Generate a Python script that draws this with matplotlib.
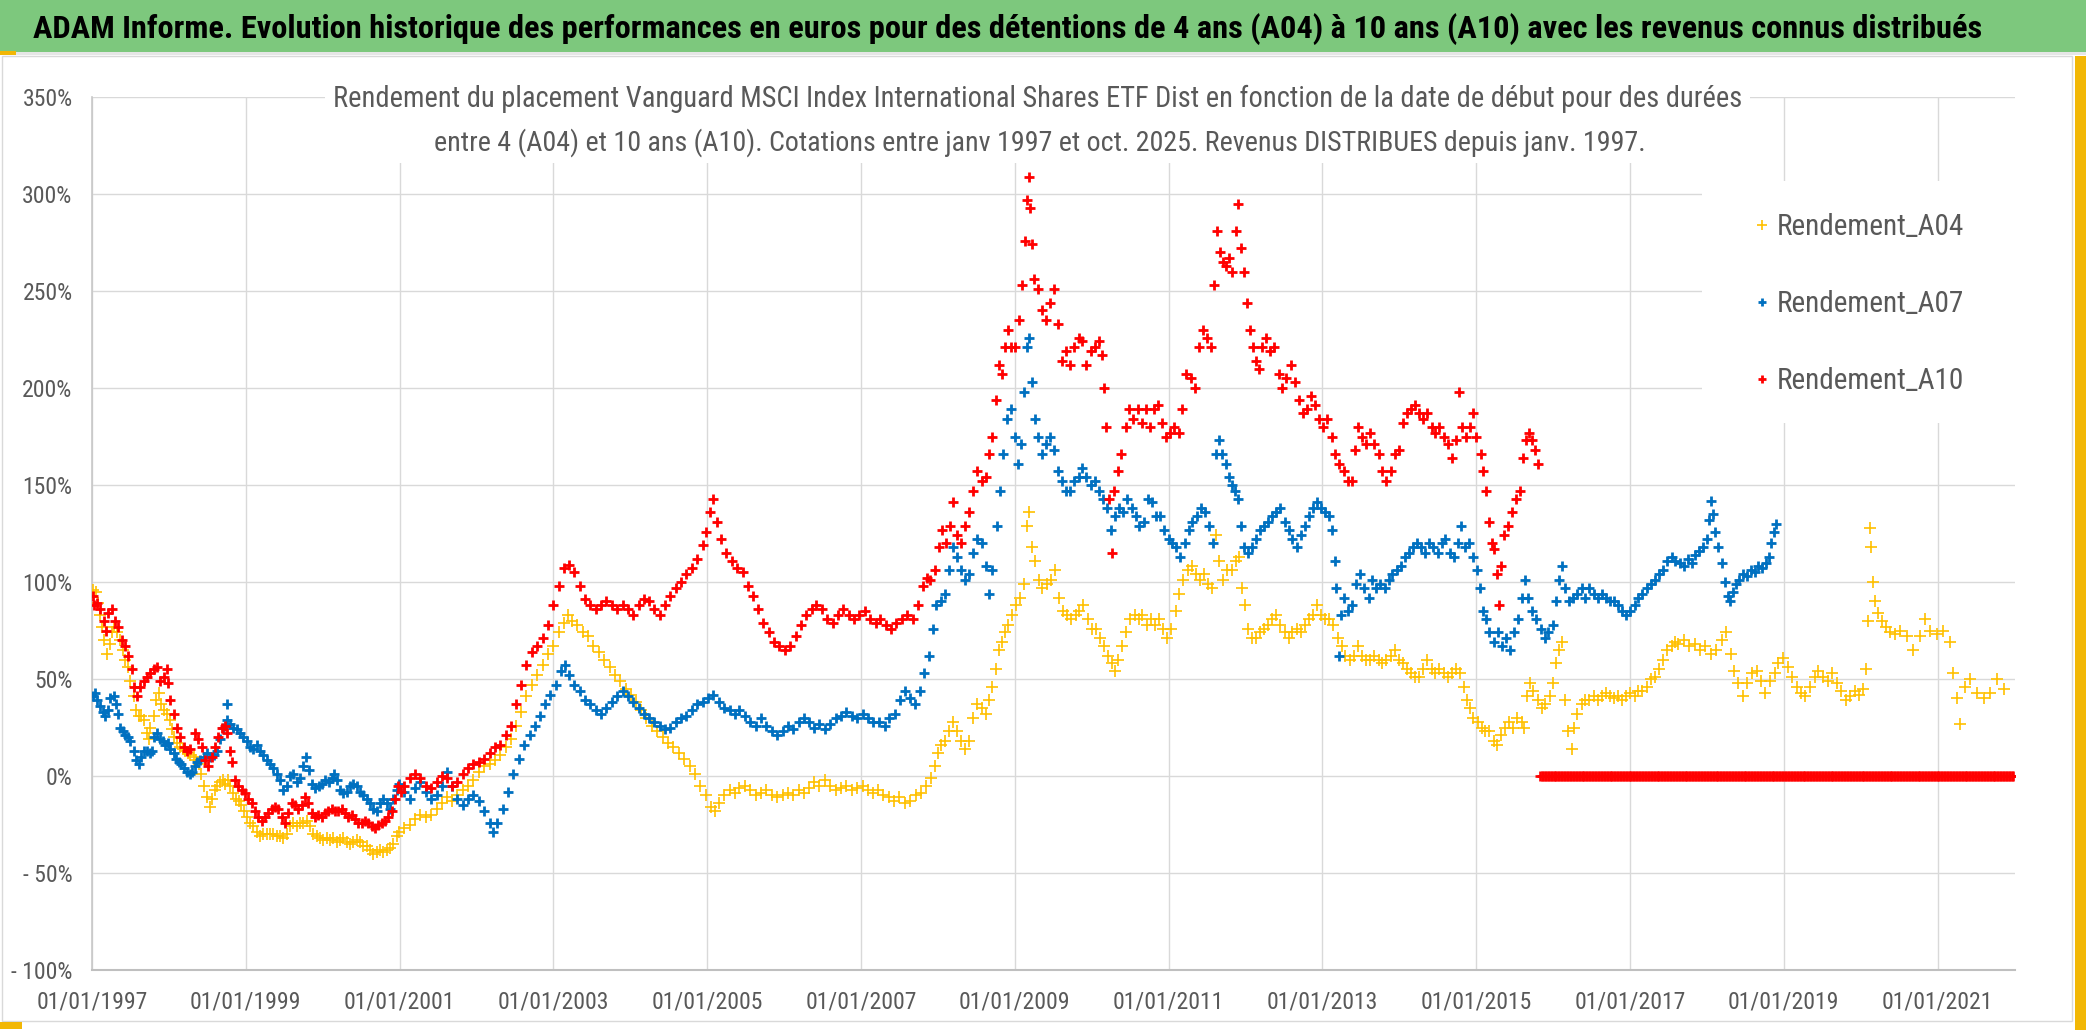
import matplotlib
matplotlib.use('Agg')
import matplotlib.pyplot as plt
from matplotlib import font_manager
from matplotlib.font_manager import FontProperties
from matplotlib.patches import Rectangle
import pandas as pd

# ---------------- data: (start date as decimal year, return in %) ----------------
a04 = [
    (1997.01, 96), (1997.05, 95), (1997.08, 89), (1997.10, 83), (1997.13, 77), (1997.16, 70), (1997.19, 63),
    (1997.23, 68), (1997.26, 74), (1997.29, 77), (1997.33, 74), (1997.36, 70), (1997.40, 65), (1997.43, 60),
    (1997.47, 56), (1997.50, 49), (1997.54, 41), (1997.57, 34), (1997.61, 31), (1997.64, 31), (1997.68, 29),
    (1997.71, 22), (1997.74, 19), (1997.76, 25), (1997.80, 31), (1997.83, 39), (1997.87, 43), (1997.90, 37),
    (1997.94, 34), (1997.97, 32), (1998.01, 29), (1998.04, 24), (1998.07, 20), (1998.11, 17), (1998.14, 15),
    (1998.18, 14), (1998.21, 13), (1998.25, 12), (1998.28, 11), (1998.32, 10), (1998.35, 8), (1998.39, 6),
    (1998.42, 1), (1998.46, -5), (1998.49, -11), (1998.53, -16), (1998.56, -12), (1998.60, -7), (1998.63, -5),
    (1998.66, -3), (1998.70, -2), (1998.73, -4), (1998.77, -2), (1998.80, -5), (1998.84, -9), (1998.87, -12),
    (1998.91, -13), (1998.94, -15), (1998.98, -18), (1999.01, -21), (1999.05, -24), (1999.10, -26), (1999.14, -29),
    (1999.18, -31), (1999.23, -30), (1999.27, -30), (1999.31, -30), (1999.36, -30), (1999.40, -31), (1999.44, -31),
    (1999.49, -32), (1999.53, -30), (1999.57, -26), (1999.62, -24), (1999.66, -26), (1999.70, -24), (1999.75, -24),
    (1999.79, -23), (1999.83, -26), (1999.88, -30), (1999.92, -31), (1999.96, -32), (2000.01, -33), (2000.05, -32),
    (2000.09, -33), (2000.14, -32), (2000.18, -34), (2000.22, -33), (2000.27, -32), (2000.31, -34), (2000.36, -35),
    (2000.40, -34), (2000.44, -33), (2000.49, -34), (2000.53, -36), (2000.57, -36), (2000.62, -38), (2000.66, -40),
    (2000.70, -39), (2000.75, -38), (2000.79, -39), (2000.83, -38), (2000.88, -37), (2000.92, -35), (2000.96, -31),
    (2000.99, -29), (2001.06, -27), (2001.13, -25), (2001.20, -22), (2001.27, -20), (2001.34, -21), (2001.41, -20),
    (2001.48, -17), (2001.55, -14), (2001.62, -11), (2001.68, -13), (2001.75, -10), (2001.82, -7), (2001.89, -5),
    (2001.96, -2), (2002.03, 2), (2002.10, 5), (2002.17, 6), (2002.24, 8), (2002.31, 11), (2002.38, 15),
    (2002.45, 19), (2002.51, 26), (2002.58, 33), (2002.65, 41), (2002.72, 47), (2002.79, 52), (2002.86, 57),
    (2002.93, 63), (2003.00, 67), (2003.07, 74), (2003.14, 79), (2003.19, 83), (2003.24, 80), (2003.31, 78),
    (2003.38, 74), (2003.45, 72), (2003.52, 67), (2003.59, 64), (2003.66, 60), (2003.73, 56), (2003.80, 52),
    (2003.87, 49), (2003.94, 45), (2004.01, 42), (2004.08, 38), (2004.14, 34), (2004.21, 30), (2004.28, 26),
    (2004.35, 23), (2004.42, 20), (2004.49, 17), (2004.56, 15), (2004.63, 12), (2004.70, 9), (2004.77, 5),
    (2004.84, 1), (2004.91, -5), (2004.98, -10), (2005.05, -16), (2005.10, -18), (2005.15, -14), (2005.22, -10),
    (2005.29, -7), (2005.36, -9), (2005.42, -6), (2005.49, -5), (2005.56, -7), (2005.63, -10), (2005.70, -9),
    (2005.77, -7), (2005.84, -10), (2005.91, -11), (2005.98, -10), (2006.05, -9), (2006.12, -10), (2006.19, -7),
    (2006.26, -9), (2006.32, -6), (2006.39, -3), (2006.46, -5), (2006.53, -2), (2006.60, -5), (2006.67, -7),
    (2006.74, -6), (2006.81, -5), (2006.88, -7), (2006.95, -6), (2007.02, -5), (2007.09, -7), (2007.16, -9),
    (2007.22, -7), (2007.29, -10), (2007.36, -11), (2007.43, -13), (2007.50, -11), (2007.57, -14), (2007.64, -13),
    (2007.71, -10), (2007.78, -9), (2007.84, -5), (2007.91, -1), (2007.96, 5), (2008.00, 12), (2008.04, 16),
    (2008.09, 18), (2008.14, 23), (2008.20, 28), (2008.25, 23), (2008.30, 18), (2008.35, 14), (2008.41, 18),
    (2008.46, 30), (2008.51, 37), (2008.57, 35), (2008.62, 32), (2008.67, 39), (2008.71, 46), (2008.75, 55),
    (2008.79, 65), (2008.83, 69), (2008.87, 74), (2008.91, 78), (2008.96, 83), (2009.02, 88), (2009.07, 92),
    (2009.12, 99), (2009.16, 129), (2009.19, 136), (2009.22, 118), (2009.26, 111), (2009.31, 101), (2009.36, 97),
    (2009.42, 99), (2009.47, 101), (2009.52, 106), (2009.57, 92), (2009.63, 85), (2009.68, 83), (2009.73, 81),
    (2009.79, 83), (2009.84, 85), (2009.89, 88), (2009.95, 81), (2010.00, 76), (2010.05, 76), (2010.11, 71),
    (2010.16, 67), (2010.21, 62), (2010.26, 58), (2010.30, 54), (2010.34, 60), (2010.40, 67), (2010.45, 74),
    (2010.50, 81), (2010.56, 83), (2010.61, 81), (2010.66, 83), (2010.72, 78), (2010.77, 81), (2010.82, 78),
    (2010.88, 81), (2010.93, 76), (2010.98, 71), (2011.03, 76), (2011.09, 85), (2011.14, 94), (2011.19, 101),
    (2011.25, 106), (2011.30, 108), (2011.35, 104), (2011.41, 101), (2011.46, 104), (2011.51, 99), (2011.57, 97),
    (2011.62, 124), (2011.66, 111), (2011.71, 101), (2011.76, 106), (2011.82, 106), (2011.87, 111), (2011.91, 113),
    (2011.95, 97), (2011.99, 88), (2012.03, 76), (2012.08, 71), (2012.14, 71), (2012.19, 74), (2012.24, 76),
    (2012.29, 78), (2012.35, 81), (2012.40, 83), (2012.45, 78), (2012.51, 74), (2012.56, 71), (2012.61, 74),
    (2012.67, 76), (2012.72, 74), (2012.77, 78), (2012.83, 81), (2012.88, 83), (2012.93, 88), (2012.98, 83),
    (2013.04, 81), (2013.09, 81), (2013.14, 78), (2013.20, 71), (2013.25, 67), (2013.30, 62), (2013.36, 60),
    (2013.41, 62), (2013.46, 67), (2013.52, 62), (2013.57, 60), (2013.62, 60), (2013.67, 62), (2013.73, 60),
    (2013.78, 58), (2013.83, 60), (2013.89, 62), (2013.94, 65), (2013.99, 60), (2014.05, 58), (2014.10, 55),
    (2014.15, 53), (2014.21, 51), (2014.26, 51), (2014.31, 55), (2014.36, 60), (2014.42, 55), (2014.47, 53),
    (2014.52, 55), (2014.58, 53), (2014.63, 51), (2014.68, 53), (2014.74, 55), (2014.79, 53), (2014.84, 46),
    (2014.88, 39), (2014.92, 35), (2014.96, 30), (2015.02, 28), (2015.07, 25), (2015.12, 23), (2015.17, 23),
    (2015.23, 18), (2015.27, 16), (2015.32, 21), (2015.37, 25), (2015.43, 28), (2015.48, 25), (2015.53, 30),
    (2015.59, 28), (2015.62, 25), (2015.66, 41), (2015.70, 48), (2015.74, 44), (2015.80, 39), (2015.85, 35),
    (2015.90, 37), (2015.96, 41), (2016.00, 48), (2016.04, 58), (2016.08, 65), (2016.12, 69), (2016.16, 39),
    (2016.20, 23), (2016.24, 14), (2016.27, 25), (2016.31, 32), (2016.37, 37), (2016.42, 39), (2016.47, 39),
    (2016.53, 41), (2016.58, 39), (2016.63, 41), (2016.69, 43), (2016.74, 41), (2016.79, 40), (2016.85, 41),
    (2016.90, 39), (2016.95, 41), (2017.00, 43), (2017.06, 41), (2017.11, 44), (2017.16, 44), (2017.22, 46),
    (2017.27, 50), (2017.32, 51), (2017.38, 55), (2017.43, 60), (2017.48, 65), (2017.54, 67), (2017.59, 69),
    (2017.63, 68), (2017.70, 70), (2017.77, 67), (2017.84, 68), (2017.91, 65), (2017.98, 67), (2018.05, 63),
    (2018.12, 65), (2018.19, 70), (2018.25, 74), (2018.31, 63), (2018.35, 54), (2018.41, 48), (2018.47, 41),
    (2018.52, 48), (2018.58, 53), (2018.65, 54), (2018.70, 49), (2018.76, 43), (2018.82, 49), (2018.88, 53),
    (2018.93, 58), (2018.99, 61), (2019.05, 56), (2019.11, 51), (2019.17, 46), (2019.22, 43), (2019.28, 41),
    (2019.34, 46), (2019.40, 51), (2019.45, 54), (2019.51, 51), (2019.57, 49), (2019.63, 53), (2019.69, 48),
    (2019.74, 44), (2019.81, 39), (2019.86, 41), (2019.93, 44), (2019.98, 42), (2020.03, 45), (2020.07, 55),
    (2020.10, 80), (2020.12, 128), (2020.14, 118), (2020.16, 100), (2020.19, 90), (2020.23, 84), (2020.28, 80),
    (2020.33, 77), (2020.38, 74), (2020.44, 73), (2020.51, 75), (2020.60, 72), (2020.68, 65), (2020.77, 72),
    (2020.84, 81), (2020.90, 75), (2020.99, 73), (2021.07, 75), (2021.16, 69), (2021.20, 53), (2021.25, 40),
    (2021.29, 27), (2021.36, 46), (2021.42, 50), (2021.51, 43), (2021.60, 40), (2021.68, 43), (2021.77, 50),
    (2021.86, 45)]

a07 = [
    (1997.01, 41), (1997.04, 43), (1997.07, 39), (1997.10, 36), (1997.14, 33), (1997.17, 31), (1997.21, 34),
    (1997.24, 40), (1997.28, 41), (1997.31, 37), (1997.34, 32), (1997.36, 25), (1997.40, 23), (1997.43, 21),
    (1997.47, 20), (1997.50, 18), (1997.54, 13), (1997.57, 8), (1997.61, 6), (1997.64, 10), (1997.68, 13),
    (1997.71, 13), (1997.75, 12), (1997.78, 13), (1997.81, 20), (1997.85, 22), (1997.88, 19), (1997.92, 18),
    (1997.95, 16), (1997.99, 17), (1998.02, 14), (1998.06, 12), (1998.09, 9), (1998.13, 7), (1998.16, 6),
    (1998.20, 4), (1998.23, 2), (1998.27, 1), (1998.30, 2), (1998.34, 5), (1998.37, 7), (1998.40, 8),
    (1998.45, 10), (1998.49, 12), (1998.53, 10), (1998.58, 11), (1998.62, 13), (1998.66, 19), (1998.71, 25),
    (1998.75, 29), (1998.76, 37), (1998.79, 27), (1998.84, 25), (1998.88, 24), (1998.92, 22), (1998.97, 20),
    (1999.01, 18), (1999.05, 15), (1999.10, 14), (1999.14, 16), (1999.18, 13), (1999.23, 11), (1999.27, 8),
    (1999.31, 6), (1999.36, 4), (1999.40, 1), (1999.44, -2), (1999.49, -7), (1999.53, -5), (1999.57, 0),
    (1999.62, 1), (1999.66, -3), (1999.70, -1), (1999.75, 5), (1999.78, 10), (1999.82, 3), (1999.86, -4),
    (1999.90, -6), (1999.95, -5), (1999.99, -4), (2000.03, -2), (2000.08, -3), (2000.12, -1), (2000.15, 1),
    (2000.18, -2), (2000.22, -7), (2000.27, -9), (2000.31, -8), (2000.36, -5), (2000.40, -4), (2000.44, -5),
    (2000.49, -8), (2000.53, -10), (2000.57, -12), (2000.62, -14), (2000.66, -17), (2000.70, -18), (2000.75, -14),
    (2000.79, -12), (2000.83, -14), (2000.88, -17), (2000.92, -12), (2000.96, -7), (2000.99, -4), (2001.06, -8),
    (2001.13, -12), (2001.20, -6), (2001.27, -3), (2001.34, -8), (2001.41, -12), (2001.48, -10), (2001.55, -5),
    (2001.62, 2), (2001.68, -5), (2001.75, -12), (2001.82, -15), (2001.89, -12), (2001.96, -10), (2002.03, -13),
    (2002.10, -18), (2002.17, -24), (2002.22, -29), (2002.27, -24), (2002.34, -17), (2002.41, -8), (2002.48, 1),
    (2002.55, 9), (2002.62, 16), (2002.69, 21), (2002.76, 26), (2002.82, 31), (2002.89, 37), (2002.96, 42),
    (2003.03, 47), (2003.10, 54), (2003.15, 57), (2003.20, 52), (2003.27, 47), (2003.34, 44), (2003.41, 39),
    (2003.48, 37), (2003.55, 34), (2003.62, 32), (2003.69, 35), (2003.76, 38), (2003.83, 41), (2003.90, 44),
    (2003.97, 41), (2004.04, 38), (2004.11, 35), (2004.18, 32), (2004.24, 30), (2004.31, 28), (2004.38, 26),
    (2004.45, 24), (2004.52, 25), (2004.59, 28), (2004.66, 30), (2004.73, 31), (2004.80, 34), (2004.87, 37),
    (2004.94, 38), (2005.01, 40), (2005.08, 42), (2005.15, 38), (2005.22, 35), (2005.29, 34), (2005.36, 32),
    (2005.42, 34), (2005.49, 31), (2005.56, 28), (2005.63, 26), (2005.70, 30), (2005.77, 26), (2005.84, 23),
    (2005.91, 21), (2005.98, 23), (2006.05, 26), (2006.12, 24), (2006.19, 28), (2006.26, 30), (2006.32, 28),
    (2006.39, 25), (2006.46, 27), (2006.53, 24), (2006.60, 27), (2006.67, 30), (2006.74, 31), (2006.81, 33),
    (2006.88, 31), (2006.95, 30), (2007.02, 32), (2007.09, 30), (2007.16, 28), (2007.24, 28), (2007.31, 26),
    (2007.37, 30), (2007.44, 32), (2007.51, 39), (2007.57, 44), (2007.64, 40), (2007.70, 37), (2007.77, 44),
    (2007.82, 53), (2007.88, 62), (2007.93, 76), (2007.98, 88), (2008.04, 90), (2008.09, 94), (2008.14, 106),
    (2008.20, 118), (2008.25, 113), (2008.30, 106), (2008.35, 101), (2008.41, 104), (2008.46, 115), (2008.51, 122),
    (2008.57, 120), (2008.62, 108), (2008.66, 94), (2008.71, 106), (2008.77, 129), (2008.81, 147), (2008.85, 166),
    (2008.90, 184), (2008.95, 189), (2009.00, 175), (2009.04, 161), (2009.08, 171), (2009.12, 198), (2009.16, 221),
    (2009.19, 226), (2009.22, 203), (2009.26, 184), (2009.30, 175), (2009.35, 166), (2009.40, 171), (2009.46, 175),
    (2009.51, 168), (2009.56, 157), (2009.61, 152), (2009.67, 147), (2009.72, 147), (2009.77, 152), (2009.83, 154),
    (2009.88, 159), (2009.93, 154), (2009.99, 150), (2010.04, 152), (2010.09, 147), (2010.15, 143), (2010.20, 138),
    (2010.25, 127), (2010.30, 134), (2010.36, 138), (2010.41, 136), (2010.46, 143), (2010.52, 138), (2010.57, 134),
    (2010.62, 129), (2010.68, 131), (2010.73, 143), (2010.78, 141), (2010.84, 134), (2010.89, 134), (2010.94, 127),
    (2011.00, 122), (2011.05, 120), (2011.10, 118), (2011.15, 113), (2011.21, 120), (2011.26, 127), (2011.31, 131),
    (2011.37, 134), (2011.42, 138), (2011.47, 136), (2011.53, 129), (2011.58, 120), (2011.62, 166), (2011.66, 173),
    (2011.70, 166), (2011.74, 161), (2011.78, 154), (2011.82, 150), (2011.86, 147), (2011.90, 143), (2011.94, 129),
    (2011.98, 118), (2012.03, 115), (2012.08, 118), (2012.14, 122), (2012.19, 127), (2012.24, 129), (2012.29, 131),
    (2012.35, 134), (2012.40, 136), (2012.45, 138), (2012.51, 131), (2012.56, 127), (2012.61, 122), (2012.67, 118),
    (2012.72, 124), (2012.77, 129), (2012.83, 134), (2012.88, 138), (2012.93, 141), (2012.98, 138), (2013.04, 136),
    (2013.09, 134), (2013.13, 127), (2013.16, 111), (2013.18, 97), (2013.21, 62), (2013.24, 83), (2013.28, 92),
    (2013.33, 85), (2013.38, 88), (2013.44, 99), (2013.49, 104), (2013.54, 97), (2013.60, 92), (2013.65, 101),
    (2013.70, 97), (2013.75, 99), (2013.81, 97), (2013.86, 101), (2013.91, 104), (2013.97, 106), (2014.02, 108),
    (2014.07, 113), (2014.13, 115), (2014.18, 118), (2014.23, 120), (2014.28, 118), (2014.34, 115), (2014.39, 120),
    (2014.44, 118), (2014.50, 115), (2014.55, 120), (2014.60, 122), (2014.66, 115), (2014.71, 113), (2014.76, 120),
    (2014.80, 129), (2014.86, 118), (2014.91, 120), (2014.96, 113), (2015.01, 106), (2015.05, 97), (2015.09, 85),
    (2015.13, 81), (2015.17, 74), (2015.23, 69), (2015.28, 74), (2015.33, 67), (2015.39, 71), (2015.44, 65),
    (2015.49, 74), (2015.55, 81), (2015.60, 92), (2015.64, 101), (2015.68, 92), (2015.73, 85), (2015.78, 81),
    (2015.84, 76), (2015.89, 71), (2015.94, 74), (2016.00, 78), (2016.04, 90), (2016.08, 101), (2016.12, 108),
    (2016.16, 97), (2016.21, 90), (2016.26, 92), (2016.31, 94), (2016.37, 97), (2016.42, 92), (2016.47, 97),
    (2016.53, 94), (2016.58, 92), (2016.63, 94), (2016.69, 92), (2016.74, 90), (2016.79, 90), (2016.85, 88),
    (2016.90, 85), (2016.95, 83), (2017.00, 85), (2017.06, 88), (2017.11, 92), (2017.16, 94), (2017.22, 97),
    (2017.27, 99), (2017.32, 101), (2017.38, 104), (2017.43, 106), (2017.48, 111), (2017.54, 113), (2017.59, 111),
    (2017.65, 110), (2017.70, 108), (2017.75, 112), (2017.80, 110), (2017.85, 114), (2017.90, 116), (2017.95, 118),
    (2018.00, 122), (2018.03, 132), (2018.05, 142), (2018.08, 135), (2018.11, 126), (2018.15, 118), (2018.19, 110),
    (2018.23, 100), (2018.27, 93), (2018.30, 90), (2018.34, 95), (2018.38, 99), (2018.42, 101), (2018.47, 104),
    (2018.52, 103), (2018.57, 106), (2018.62, 105), (2018.67, 108), (2018.72, 107), (2018.77, 110), (2018.81, 113),
    (2018.84, 120), (2018.87, 126), (2018.90, 130)]

a10 = [
    (1997.01, 93), (1997.03, 88), (1997.06, 89), (1997.10, 86), (1997.15, 80), (1997.18, 75), (1997.21, 84),
    (1997.26, 86), (1997.30, 80), (1997.34, 77), (1997.39, 70), (1997.43, 67), (1997.47, 62), (1997.52, 55),
    (1997.55, 46), (1997.58, 41), (1997.62, 46), (1997.67, 49), (1997.71, 51), (1997.75, 53), (1997.80, 55),
    (1997.84, 56), (1997.88, 49), (1997.93, 51), (1997.97, 55), (1997.99, 48), (1998.02, 39), (1998.06, 32),
    (1998.10, 25), (1998.14, 20), (1998.19, 15), (1998.23, 13), (1998.27, 14), (1998.34, 22), (1998.38, 19),
    (1998.43, 15), (1998.47, 8), (1998.51, 5), (1998.56, 10), (1998.60, 15), (1998.64, 20), (1998.69, 25),
    (1998.73, 26), (1998.76, 22), (1998.79, 13), (1998.82, 7), (1998.86, -2), (1998.90, -5), (1998.95, -7),
    (1998.99, -9), (1999.03, -12), (1999.08, -14), (1999.12, -18), (1999.16, -21), (1999.21, -23), (1999.25, -21),
    (1999.29, -19), (1999.34, -17), (1999.38, -16), (1999.42, -17), (1999.47, -21), (1999.51, -24), (1999.55, -19),
    (1999.60, -14), (1999.64, -15), (1999.68, -17), (1999.73, -15), (1999.77, -11), (1999.81, -14), (1999.86, -19),
    (1999.90, -21), (1999.94, -20), (1999.99, -21), (2000.03, -19), (2000.07, -18), (2000.12, -17), (2000.16, -18),
    (2000.20, -18), (2000.25, -17), (2000.29, -19), (2000.33, -21), (2000.38, -20), (2000.42, -22), (2000.46, -24),
    (2000.51, -24), (2000.55, -23), (2000.59, -24), (2000.64, -26), (2000.68, -27), (2000.72, -25), (2000.77, -24),
    (2000.81, -23), (2000.85, -21), (2000.90, -18), (2000.94, -12), (2000.98, -5), (2001.02, -8), (2001.06, -5),
    (2001.13, -1), (2001.20, 1), (2001.27, -1), (2001.34, -5), (2001.41, -6), (2001.48, -3), (2001.55, 0),
    (2001.62, -1), (2001.68, -5), (2001.75, -3), (2001.82, 1), (2001.89, 4), (2001.96, 6), (2002.03, 7),
    (2002.10, 9), (2002.17, 12), (2002.24, 15), (2002.31, 16), (2002.38, 21), (2002.45, 26), (2002.51, 37),
    (2002.58, 47), (2002.65, 57), (2002.72, 64), (2002.79, 67), (2002.86, 71), (2002.93, 78), (2003.00, 88),
    (2003.07, 98), (2003.14, 107), (2003.20, 109), (2003.27, 105), (2003.34, 98), (2003.41, 91), (2003.48, 88),
    (2003.55, 86), (2003.62, 88), (2003.69, 90), (2003.76, 88), (2003.83, 86), (2003.90, 88), (2003.97, 86),
    (2004.04, 83), (2004.11, 88), (2004.18, 91), (2004.24, 90), (2004.31, 86), (2004.38, 83), (2004.45, 88),
    (2004.52, 93), (2004.59, 97), (2004.66, 100), (2004.73, 104), (2004.80, 107), (2004.87, 112), (2004.94, 119),
    (2004.99, 126), (2005.04, 136), (2005.08, 143), (2005.13, 131), (2005.18, 122), (2005.25, 115), (2005.32, 111),
    (2005.39, 107), (2005.46, 105), (2005.53, 98), (2005.59, 93), (2005.66, 86), (2005.73, 79), (2005.80, 74),
    (2005.87, 69), (2005.94, 67), (2006.01, 65), (2006.08, 67), (2006.15, 72), (2006.22, 78), (2006.29, 83),
    (2006.36, 86), (2006.42, 88), (2006.49, 86), (2006.56, 81), (2006.63, 79), (2006.70, 83), (2006.77, 86),
    (2006.84, 83), (2006.91, 81), (2006.98, 83), (2007.05, 85), (2007.12, 81), (2007.19, 79), (2007.25, 81),
    (2007.32, 78), (2007.39, 76), (2007.46, 79), (2007.53, 81), (2007.60, 83), (2007.67, 81), (2007.74, 88),
    (2007.81, 98), (2007.86, 102), (2007.90, 101), (2007.96, 106), (2008.01, 118), (2008.05, 127), (2008.10, 120),
    (2008.16, 129), (2008.20, 141), (2008.25, 124), (2008.30, 120), (2008.35, 129), (2008.41, 136), (2008.46, 147),
    (2008.51, 157), (2008.57, 152), (2008.62, 154), (2008.67, 166), (2008.71, 175), (2008.75, 194), (2008.79, 212),
    (2008.83, 207), (2008.87, 221), (2008.91, 230), (2008.95, 221), (2009.00, 221), (2009.06, 235), (2009.10, 253),
    (2009.13, 276), (2009.16, 297), (2009.18, 309), (2009.20, 293), (2009.22, 274), (2009.25, 256), (2009.30, 251),
    (2009.35, 240), (2009.40, 235), (2009.46, 244), (2009.51, 251), (2009.56, 233), (2009.61, 214), (2009.67, 219),
    (2009.72, 212), (2009.77, 221), (2009.83, 226), (2009.88, 224), (2009.93, 212), (2009.99, 219), (2010.04, 221),
    (2010.09, 224), (2010.13, 217), (2010.16, 200), (2010.19, 180), (2010.23, 143), (2010.26, 115), (2010.29, 147),
    (2010.34, 157), (2010.38, 166), (2010.44, 180), (2010.49, 189), (2010.54, 184), (2010.60, 189), (2010.65, 182),
    (2010.70, 189), (2010.76, 180), (2010.81, 189), (2010.86, 191), (2010.92, 182), (2010.97, 175), (2011.02, 177),
    (2011.07, 180), (2011.13, 177), (2011.18, 189), (2011.23, 207), (2011.29, 205), (2011.34, 200), (2011.39, 221),
    (2011.45, 230), (2011.50, 226), (2011.55, 221), (2011.59, 253), (2011.63, 281), (2011.67, 270), (2011.71, 265),
    (2011.75, 263), (2011.79, 267), (2011.83, 260), (2011.87, 281), (2011.90, 295), (2011.94, 272), (2011.98, 260),
    (2012.02, 244), (2012.06, 230), (2012.10, 221), (2012.14, 214), (2012.18, 210), (2012.22, 221), (2012.27, 226),
    (2012.32, 219), (2012.37, 221), (2012.43, 207), (2012.48, 200), (2012.53, 205), (2012.59, 212), (2012.64, 203),
    (2012.69, 194), (2012.75, 187), (2012.80, 189), (2012.85, 196), (2012.91, 191), (2012.96, 184), (2013.01, 180),
    (2013.06, 184), (2013.12, 175), (2013.17, 166), (2013.22, 161), (2013.28, 157), (2013.33, 152), (2013.38, 152),
    (2013.42, 168), (2013.46, 180), (2013.52, 175), (2013.57, 171), (2013.62, 177), (2013.67, 171), (2013.73, 166),
    (2013.78, 157), (2013.83, 152), (2013.89, 157), (2013.94, 166), (2013.99, 168), (2014.05, 182), (2014.10, 187),
    (2014.15, 189), (2014.21, 191), (2014.26, 187), (2014.31, 184), (2014.36, 187), (2014.42, 180), (2014.47, 177),
    (2014.52, 180), (2014.58, 175), (2014.63, 171), (2014.68, 164), (2014.74, 173), (2014.78, 198), (2014.82, 180),
    (2014.87, 175), (2014.92, 180), (2014.96, 187), (2015.00, 175), (2015.06, 166), (2015.09, 157), (2015.13, 147),
    (2015.17, 131), (2015.20, 120), (2015.23, 117), (2015.27, 104), (2015.29, 88), (2015.32, 108), (2015.36, 124),
    (2015.41, 129), (2015.47, 136), (2015.52, 143), (2015.57, 147), (2015.61, 164), (2015.65, 173), (2015.69, 177),
    (2015.73, 173), (2015.77, 168), (2015.81, 161)]

# A10 start dates after oct. 2015 have no 10-year result yet: plotted as 0 %
a10_zero_dates = pd.date_range('2015-11-01', '2021-12-31', freq='7D')
a10_zero_values = [0.0] * len(a10_zero_dates)

series_names = ['Rendement_A04', 'Rendement_A07', 'Rendement_A10']
series_colors = ['#FFC000', '#0070C0', '#FF0000']
year_ticks = [1997, 1999, 2001, 2003, 2005, 2007, 2009, 2011, 2013, 2015, 2017, 2019, 2021]
tick_labels = ['01/01/%d' % y for y in year_ticks]
y_ticks = [-100, -50, 0, 50, 100, 150, 200, 250, 300, 350]
y_labels = ['- 100%', '- 50%', '0%', '50%', '100%', '150%', '200%', '250%', '300%', '350%']

title = ("ADAM Informe. Evolution historique des performances en euros pour des détentions "
         "de 4 ans (A04) à 10 ans (A10) avec les revenus connus distribués")
sub1 = ("Rendement du placement Vanguard MSCI Index International Shares ETF Dist en fonction "
        "de la date de début pour des durées")
sub2 = ("entre 4 (A04) et 10 ans (A10). Cotations entre janv 1997 et oct. 2025. "
        "Revenus DISTRIBUES depuis janv. 1997.")

# ---------------- fonts: prefer a narrow face (the original uses a condensed look) ----------------
ttf = font_manager.fontManager.ttflist


def pick(keys, bold):
    for key in keys:
        for f in ttf:
            fn = f.fname.replace(' ', '').replace('-', '').replace('_', '').lower()
            if key in fn and (('bold' in fn) == bold) and 'italic' not in fn and 'oblique' not in fn:
                if bold or not any(w in fn for w in ['light', 'thin', 'medium', 'semibold', 'black', 'extra']):
                    return f.fname
    return None


narrow_keys = ['liberationsansnarrow', 'robotocondensed', 'opensanscondensed', 'notosanscondensed',
               'dejavusanscondensed', 'liberationsans']
reg_path = pick(narrow_keys, False)
bold_path = pick(narrow_keys, True)
FP = FontProperties(fname=reg_path) if reg_path else FontProperties(family='Liberation Sans')
FPB = FontProperties(fname=bold_path) if bold_path else FontProperties(family='Liberation Sans', weight='bold')

W, H = 2086, 1032
fig = plt.figure(figsize=(W / 100, H / 100), dpi=100)
fig.patch.set_facecolor('white')
renderer = fig.canvas.get_renderer()


def fx(px):
    return px / W


def fy(py):
    return 1 - py / H


def fit_size(s, fp, target_w):
    t = fig.text(0, 0, s, fontproperties=fp, fontsize=20)
    w = t.get_window_extent(renderer).width
    t.remove()
    return 20 * target_w / w


GREY = '#595959'

ax = fig.add_axes([fx(92), fy(970), fx(2014.5) - fx(92), fy(97) - fy(970)])
ax.set_xlim(1997.0, 2022.0)
ax.set_ylim(-100, 350)


def dec_year(d):
    return d.year + (d.dayofyear - 1) / 365.25


t4, v4 = zip(*a04)
t7, v7 = zip(*a07)
t10, v10 = zip(*a10)
tz = [dec_year(d) for d in a10_zero_dates]

h4, = ax.plot(t4, v4, ls='none', marker='+', ms=8.6, mew=1.2, color=series_colors[0], label=series_names[0], zorder=3)
h7, = ax.plot(t7, v7, ls='none', marker='+', ms=7.3, mew=2.0, color=series_colors[1], label=series_names[1], zorder=4)
h10, = ax.plot(t10, v10, ls='none', marker='+', ms=7.3, mew=2.0, color=series_colors[2], label=series_names[2], zorder=5)
ax.plot(tz, a10_zero_values, ls='none', marker='+', ms=7.0, mew=1.9, color=series_colors[2], zorder=5)

tick_fs = fit_size('01/01/1997', FP, 111)
ax.set_xticks(year_ticks)
ax.set_xticklabels(tick_labels, fontproperties=FP, fontsize=tick_fs, color=GREY)
ax.set_yticks(y_ticks)
ax.set_yticklabels(y_labels, fontproperties=FP, fontsize=tick_fs, color=GREY)
ax.tick_params(axis='both', length=0)
ax.tick_params(axis='x', pad=15)
ax.tick_params(axis='y', pad=14)
ax.grid(True, color='#D9D9D9', lw=1.0)
ax.set_axisbelow(True)
for s in ['top', 'right']:
    ax.spines[s].set_visible(False)
ax.spines['left'].set_color('#C8C8C8')
ax.spines['bottom'].set_color('#BFBFBF')
ax.spines['left'].set_linewidth(1.2)
ax.spines['bottom'].set_linewidth(1.5)

# banner
fig.patches.append(Rectangle((0, fy(52)), 1, 1 - fy(52), transform=fig.transFigure,
                             facecolor='#7DC87D', edgecolor='none', zorder=1))
fig.patches.append(Rectangle((0, fy(55)), 1, fy(52) - fy(55), transform=fig.transFigure,
                             facecolor='#E6E6E6', edgecolor='none', zorder=1))
# subtitle white box and legend white box (they hide the gridlines, as in the original)
fig.patches.append(Rectangle((fx(325), fy(163)), fx(1750) - fx(325), fy(75) - fy(163), transform=fig.transFigure,
                             facecolor='white', edgecolor='none', zorder=1))
fig.patches.append(Rectangle((fx(1702), fy(423)), fx(2030) - fx(1702), fy(181) - fy(423), transform=fig.transFigure,
                             facecolor='white', edgecolor='none', zorder=1))
# chart border + selection marks
fig.patches.append(Rectangle((fx(2), fy(1021)), fx(2072) - fx(2), fy(56) - fy(1021), transform=fig.transFigure,
                             facecolor='none', edgecolor='#D9D9D9', lw=1.0, zorder=1))
fig.patches.append(Rectangle((fx(2075), fy(1030)), fx(2086) - fx(2075), fy(56) - fy(1030), transform=fig.transFigure,
                             facecolor='#F2B705', edgecolor='none', zorder=1))
fig.patches.append(Rectangle((0, fy(1029)), fx(22), fy(1022) - fy(1029), transform=fig.transFigure,
                             facecolor='#F2B705', edgecolor='none', zorder=1))
fig.patches.append(Rectangle((0, fy(55)), fx(16), fy(51) - fy(55), transform=fig.transFigure,
                             facecolor='#F2B705', edgecolor='none', zorder=2))

fig.text(fx(33), fy(38), title, ha='left', va='baseline', fontproperties=FPB,
         fontsize=fit_size(title, FPB, 1946), color='black', zorder=5)
fig.text(fx(1038), fy(107), sub1, ha='center', va='baseline', fontproperties=FP,
         fontsize=fit_size(sub1, FP, 1408), color=GREY, zorder=5)
fig.text(fx(1040), fy(150.5), sub2, ha='center', va='baseline', fontproperties=FP,
         fontsize=fit_size(sub2, FP, 1210), color=GREY, zorder=5)

# legend (figure-level so that it sits above the white box)
leg_fs = fit_size('Rendement_A04', FP, 188)
F = leg_fs * 100 / 72.0
lp = FP.copy()
lp.set_size(leg_fs)
leg = fig.legend(handles=[h4, h7, h10], loc='upper left', bbox_to_anchor=(fx(1762 - 0.3 * F), fy(213)),
                 bbox_transform=fig.transFigure, frameon=False, prop=lp,
                 labelspacing=(82 - 1.12 * F) / F, handlelength=0.6, handletextpad=15.0 / F - 0.3,
                 borderpad=0, borderaxespad=0, markerscale=0.85)
for t in leg.get_texts():
    t.set_color(GREY)

fig.savefig('out.png', dpi=100, facecolor='white')
